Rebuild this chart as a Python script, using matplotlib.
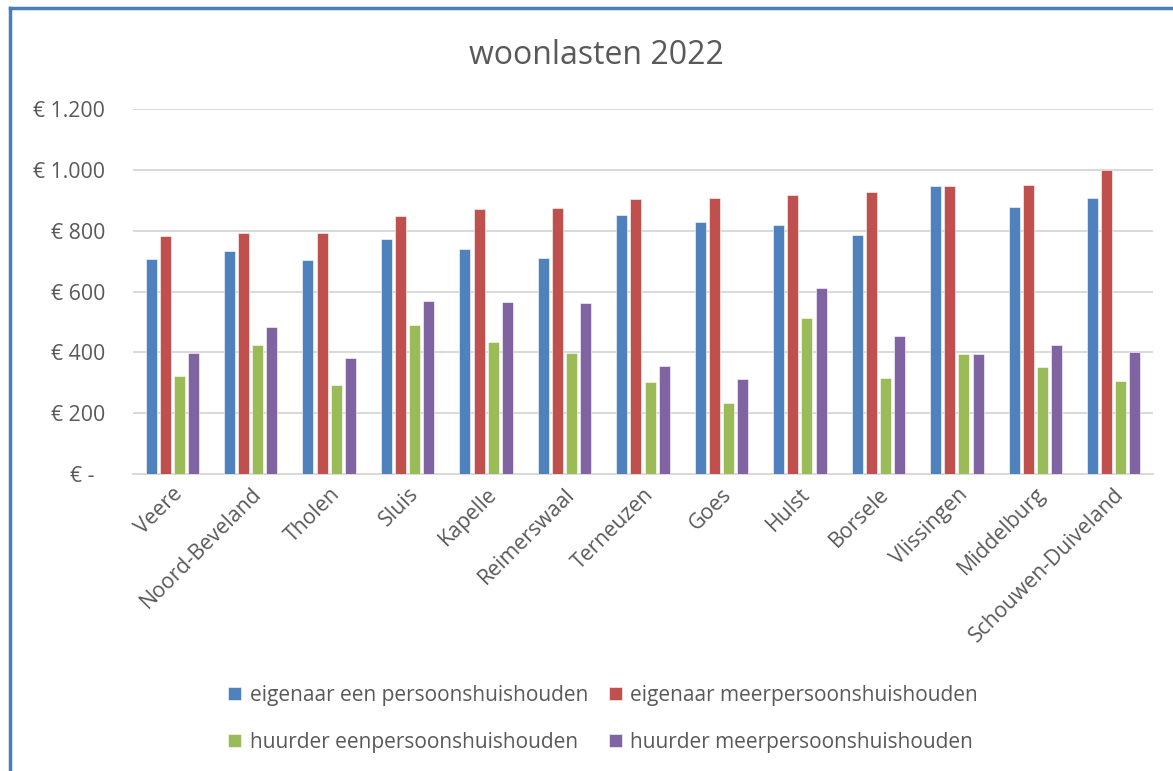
import matplotlib
matplotlib.use("Agg")
import matplotlib.pyplot as plt
from matplotlib.lines import Line2D
from matplotlib.transforms import ScaledTranslation
import numpy as np

plt.rcParams['font.family'] = ['Open Sans', 'DejaVu Sans']

categories = ["Veere", "Noord-Beveland", "Tholen", "Sluis", "Kapelle", "Reimerswaal",
              "Terneuzen", "Goes", "Hulst", "Borsele", "Vlissingen", "Middelburg",
              "Schouwen-Duiveland"]
eigenaar_een = [706, 733, 705, 772, 741, 710, 852, 830, 818, 787, 947, 877, 906]
eigenaar_meer = [782, 791, 793, 849, 872, 875, 904, 909, 918, 926, 947, 950, 1001]
huurder_een = [323, 423, 292, 491, 433, 399, 302, 235, 513, 315, 393, 353, 307]
huurder_meer = [399, 482, 380, 570, 566, 563, 354, 312, 613, 454, 393, 425, 401]
series_names = ["eigenaar een persoonshuishouden", "eigenaar meerpersoonshuishouden",
                "huurder eenpersoonshuishouden", "huurder meerpersoonshuishouden"]
series_values = [eigenaar_een, eigenaar_meer, huurder_een, huurder_meer]
colors = ["#4F81BD", "#C0504D", "#9BBB59", "#8064A2"]
yticks = [0, 200, 400, 600, 800, 1000, 1200]
ytick_labels = ["€ -", "€ 200", "€ 400", "€ 600", "€ 800", "€ 1.000", "€ 1.200"]
title = "woonlasten 2022"

W, H = 1173, 771
fig = plt.figure(figsize=(W / 100, H / 100), dpi=100)
ax = fig.add_axes([133 / W, 1 - 474 / H, 1020 / W, 365 / H])

txt = "#595959"
x = np.arange(len(categories))
step = 0.18
width = 0.14
handles = []
for i, (vals, c) in enumerate(zip(series_values, colors)):
    b = ax.bar(x + (i - 1.5) * step, vals, width=width, color=c,
               edgecolor="white", linewidth=0.4, zorder=3)
    handles.append(b)

ax.set_xlim(-0.5, len(categories) - 0.5)
ax.set_ylim(0, 1200)
ax.set_yticks(yticks)
ax.set_yticklabels(ytick_labels)
ax.grid(axis="y", color="#D9D9D9", linewidth=1.4, zorder=0)
ax.set_axisbelow(True)
for s in ["top", "right", "left"]:
    ax.spines[s].set_visible(False)
ax.spines["bottom"].set_color("#D9D9D9")
ax.spines["bottom"].set_linewidth(1.4)
ax.tick_params(axis="y", length=0, pad=20, labelsize=15.3, labelcolor=txt)
ax.set_xticks(x)
ax.set_xticklabels(categories, rotation=45, ha="right", va="top",
                   rotation_mode="anchor")
ax.tick_params(axis="x", length=0, pad=7, labelsize=15.3, labelcolor=txt)
for lab in ax.get_xticklabels():
    lab.set_transform(lab.get_transform() + ScaledTranslation(0 / 100, 0, fig.dpi_scale_trans))
ylabs = ax.get_yticklabels()
ylabs[0].set_transform(ylabs[0].get_transform() + ScaledTranslation(-11 / 100, 0, fig.dpi_scale_trans))

fig.text(596 / W, 1 - 55 / H, title, ha="center", va="center", fontsize=23, color=txt)

order = [0, 2, 1, 3]
leg = fig.legend([handles[i] for i in order], [series_names[i] for i in order],
                 ncol=2, loc="center", bbox_to_anchor=(603 / W, 1 - 719 / H),
                 frameon=False, fontsize=15, labelcolor=txt,
                 handlelength=0.62, handleheight=0.62, handletextpad=0.4,
                 columnspacing=1.0, labelspacing=1.25)

fig.add_artist(Line2D([10 / W, 10 / W], [0, 1 - 8 / H], color="#4A7EBB", linewidth=2.5,
                      transform=fig.transFigure))
fig.add_artist(Line2D([10 / W, 1], [1 - 8 / H, 1 - 8 / H], color="#4A7EBB", linewidth=2.5,
                      transform=fig.transFigure))

fig.savefig("out.png", dpi=100, facecolor="white")
